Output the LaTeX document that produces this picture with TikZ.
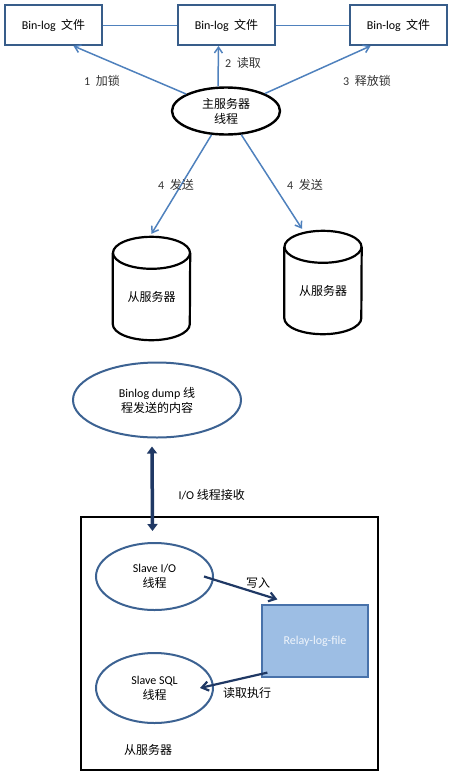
\documentclass[tikz,border=0pt]{standalone}
\usepackage{fontspec}
\setmainfont{Carlito}
\newfontfamily\zh{Noto Sans CJK SC}
\usetikzlibrary{arrows.meta,positioning,shapes.geometric}
\definecolor{boxBlue}{RGB}{56,93,138}
\definecolor{linkBlue}{RGB}{79,129,189}
\definecolor{navy}{RGB}{31,56,100}
\definecolor{relayFill}{RGB}{157,190,228}
\definecolor{relayEdge}{RGB}{72,114,170}
\definecolor{ringBlue}{RGB}{60,98,146}

\begin{document}
\begin{tikzpicture}[x=1pt,y=-1pt,
  font=\fontsize{12}{15}\selectfont,
  zh/.style={font=\fontsize{12}{15}\selectfont\zh},
  binbox/.style={draw=boxBlue,line width=2pt,minimum width=97pt,minimum height=40pt},
  thread/.style={ellipse,draw=ringBlue,line width=2pt,align=center,inner sep=0pt},
  link/.style={-{Straight Barb[angle=70:7pt]},linkBlue,line width=1.5pt},
  nv/.style={-{Straight Barb[angle=70:8pt]},navy,line width=2.2pt},
  drum/.style={minimum width=77pt,minimum height=103pt,inner sep=0pt},
  lbl/.style={text=black!80}]
  \useasboundingbox (0,0) rectangle (450,772);

  % master side
  \node[binbox] (bin1) at (53.5,25) {Bin-log\ \ {\zh 文件}};
  \node[binbox] (bin2) at (226.5,25) {Bin-log\ \ {\zh 文件}};
  \node[binbox] (bin3) at (398.5,25) {Bin-log\ \ {\zh 文件}};
  \draw[linkBlue,line width=0.7pt] (bin1) -- (bin2) (bin2) -- (bin3);

  \node[thread,draw=black,line width=2.4pt,minimum width=108pt,minimum height=47pt,zh]
    (master) at (226,111) {主服务器\\线程};

  \draw[link] (master) -- ([xshift=20pt]bin1.south);
  \draw[link] ([xshift=-8pt]master.north) -- ([xshift=-8pt]bin2.south);
  \draw[link] (master) -- ([xshift=-28pt]bin3.south);
  \node[lbl] (lock) at (102,81) {1\ \ {\zh 加锁}};
  \node[lbl] (read) at (243,63) {2\ \ {\zh 读取}};
  \node[lbl] (unlock) at (367,81) {3\ \ {\zh 释放锁}};

  % slaves
  \node[drum] (slave1) at (151.5,288.5) {};
  \node[drum] (slave2) at (323,282.5) {};
  \foreach \s in {slave1,slave2}{
    \draw[line width=2.2pt] ([yshift=-16pt]\s.north) ellipse [x radius=38.5pt,y radius=16pt];
    \draw[line width=2.2pt] ([yshift=-16pt]\s.north west) -- ([yshift=16pt]\s.south west)
      arc[start angle=180,end angle=360,x radius=38.5pt,y radius=16pt]
      -- ([yshift=-16pt]\s.north east);
  }
  \node[zh] (slave1txt) at ([yshift=-8pt]slave1) {从服务器};
  \node[zh] (slave2txt) at ([yshift=-8pt]slave2) {从服务器};

  \draw[link] (master) -- ([yshift=3pt]slave1.north);
  \draw[link] (master) -- ([xshift=-21pt,yshift=2pt]slave2.north);
  \node[lbl] (send1) at (176,185) {4\ \ {\zh 发送}};
  \node[lbl] (send2) at (305,185) {4\ \ {\zh 发送}};

  % slave detail
  \node[thread,minimum width=168pt,minimum height=75pt] (dump) at (157,400)
    {Binlog dump {\zh 线}\\{\zh 程发送的内容}};

  \node[draw,line width=1.2pt,minimum width=297pt,minimum height=253pt,inner sep=0pt]
    (host) at (229.5,643.5) {};
  \node[thread,minimum width=117pt,minimum height=67pt] (sio) at (154.5,576.5)
    {Slave I/O\\{\zh 线程}};
  \node[thread,minimum width=117pt,minimum height=70pt] (ssql) at (154.5,688)
    {Slave SQL\\{\zh 线程}};
  \node[draw=relayEdge,fill=relayFill,line width=1.2pt,minimum width=106pt,minimum height=72pt,
    text=white!85!relayFill] (relay) at (315,641) {Relay-log-file};

  \draw[{Triangle[length=7pt,width=10pt]}-{Triangle[length=7pt,width=10pt]},navy,line width=3.5pt]
    ([xshift=-5pt,yshift=-8pt]dump.south) -- ([xshift=-2pt,yshift=11pt]sio.north);
  \node[anchor=west] (iorecv) at (175,495) {I/O {\zh 线程接收}};

  \draw[nv] ([xshift=-10pt]sio.east) -- ([xshift=16pt,yshift=5pt]relay.north west);
  \draw[nv] ([xshift=6pt,yshift=5pt]relay.south west) -- ([xshift=-14pt]ssql.east);
  \node[zh] (write) at (258,583) {写入};
  \node[zh] (readexec) at (247,693) {读取执行};
  \node[zh] (hostlbl) at (148,750) {从服务器};
\end{tikzpicture}
\end{document}
